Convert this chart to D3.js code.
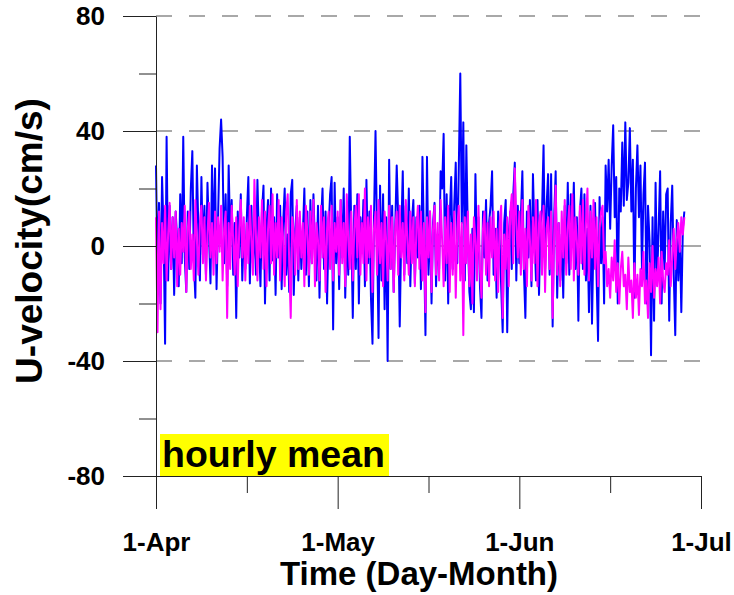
<!DOCTYPE html>
<html>
<head>
<meta charset="utf-8">
<script src="https://cdn.jsdelivr.net/npm/d3@7"></script>
<style>
  body { margin: 0; background: #fff; }
  svg text { font-family: "Liberation Sans", Arial, sans-serif; font-weight: bold; fill: #000; }
</style>
</head>
<body>
<svg id="chart" width="734" height="595"></svg>
<script>
// hourly mean U-velocity (cm/s), sampled every 6 h from 1-Apr
const uBlue = [
  28, -10, 15, -20, 24, 5, -34, 38, -12, 14, -8, 10, -17, 12, 2, -14, 18, -6, 38, -4,
  -16, 12, -8, 20, 33, -5, -18, 28, 6, -12, 24, -3, 14, -10, 22, 4, -13, 28, 0, 27,
  -15, 10, 34, 44, 31, -6, 18, -14, 28, 2, 16, -10, 8, -25, 12, -4, 18, -12, 6, -8,
  10, 24, -13, 14, -6, 8, -10, 23, 2, -14, 12, 21, -20, 6, 16, -12, 20, -5, 10, -17,
  18, -4, 14, -15, 8, 20, -10, 4, -16, 18, 23, -17, 6, 14, -12, 10, -8, 4, 20, -10,
  12, -14, 16, -6, 18, 0, -12, 14, -18, 8, 20, -8, 12, -20, 6, 18, 24, -29, 22, -6,
  10, -15, 16, -4, 20, -18, 8, -10, 38, 5, -25, 14, -8, 18, -20, 10, -2, 16, -14, 23,
  -6, 12, -18, -34, 10, 40, 4, -32, 21, -12, 18, -22, 10, -40, 30, -8, 14, -16, 6, 28,
  10, -28, 4, 26, -10, 14, -6, 20, -14, 8, 16, -13, 10, -4, 14, -15, 31, 2, -31, 31,
  -10, 12, -20, 8, 15, -14, 4, -8, 26, 20, 39, -12, 18, -20, 10, 24, -8, 14, 29, -6,
  27, 60, 8, 43, -12, 35, 4, -16, -22, 6, -23, 25, -6, 10, -14, -25, 12, -4, 16, -12,
  8, 14, 26, -10, 6, -18, 12, 2, -14, -30, 8, 16, -30, 4, 12, -8, 18, 29, -12, 14,
  -6, 10, 26, -8, -25, 12, -4, 16, -14, 25, 4, -12, 16, -17, 8, 12, 35, -8, 14, 25,
  -10, 25, -28, 10, 26, -18, 8, -12, 4, -18, 14, -6, 22, -10, 18, 2, 22, -8, 10, -26,
  12, 20, -8, 18, -12, 6, -23, 14, -27, 4, 15, -10, -33, 17, -6, 10, -20, 28, 12, 30,
  6, 28, 42, 10, 24, -20, 20, 12, 36, 14, 43, 16, 22, 41, 12, 30, -18, 20, 35, 10,
  28, -8, 18, 29, -20, 14, 2, -38, 10, -26, 22, -12, 6, 26, -20, 12, -8, 18, 20, -26,
  8, 21, -10, -31, 9, -12, 4, -23, 6, 12
];

const uMagenta = [
  10, -30, 12, -22, 8, -6, 14, -12, 4, 15, -8, 10, -4, 12, -14, 6, -10, 8, -2, 14,
  -16, 6, 12, -8, 4, -12, 16, 2, -10, 8, 14, -6, 10, -12, 4, 15, -4, 8, -10, 12,
  -6, 10, -2, 14, -12, 6, 12, -25, 8, -8, 14, 2, -10, 10, -14, 6, 16, -4, 10, -12,
  8, -6, 14, 2, -10, 23, 4, -12, 10, -4, 16, -8, 12, -14, 6, 14, -6, 18, -10, 8,
  -4, 16, -12, 10, 2, -14, 12, 18, -6, -25, 10, 4, -10, 16, -8, 12, -4, 8, -14, 14,
  4, -10, 12, -6, 16, -14, 8, 2, -12, 14, -4, 10, -16, 6, 12, -8, 14, -12, 8, -2,
  12, -10, 16, -6, 8, -14, 18, 2, -8, 12, -12, 6, 14, -4, 18, -10, 8, -6, 20, -12,
  10, -4, 14, -16, 6, 12, -10, 16, -6, 8, -14, 12, 2, -12, 14, -8, 10, -16, 6, 12,
  -10, 14, -4, 8, -12, 16, 2, -10, 12, -6, 10, -14, 6, 14, -8, 12, -12, 8, -23, 10,
  -4, 12, -16, 6, 14, -10, 8, -12, 16, 2, -14, 10, -6, 14, -16, 8, -10, 12, -18, 6,
  14, -12, 8, -31, 10, -6, 12, -14, 4, -20, 10, 2, -12, 14, -8, -18, 6, 12, -10, 8,
  -14, 10, -4, 12, -12, 6, -16, 8, 14, -25, 4, -8, 10, -14, 12, 18, -6, 27, 8, -4,
  12, -10, 16, -8, 6, -14, 14, 2, -12, 10, -6, 16, -14, 8, 12, -10, 14, -16, 6, 10,
  -8, 12, -25, 4, 21, -10, 8, -14, 12, -4, 16, -10, 6, 14, -8, 18, -12, 10, 2, -10,
  14, -6, 16, -10, 8, 20, -12, 12, -4, 16, -8, 10, -14, 6, 12, 14, -6, -2, -14, -8,
  -18, -4, -12, 2, -16, -6, -20, -8, -2, -14, -10, -22, -4, -16, -12, -25, -6, -18, -10, -24,
  -8, -14, -2, -20, -12, -25, -6, -16, 0, -18, -8, -14, -4, -20, -2, -12, -16, -6, -10, 2,
  -14, -4, 6, -8, 2, 8, -2, 10, 4, 10
];

const samplesPerDay = 4;

const yMajorTicks = [-80, -40, 0, 40, 80];
const yMinorTicks = [-60, -20, 20, 60];
const yGridDashed = [80, 40, -40];
const xMajorTicks = [0, 30, 60, 90];
const xMajorLabels = ["1-Apr", "1-May", "1-Jun", "1-Jul"];
const xMinorTicks = [15, 45, 75];

function drawChart() {
    const margin = {top: 16, right: 33, bottom: 119, left: 156},
          width = 734 - margin.left - margin.right,
          height = 595 - margin.top - margin.bottom;

    const svg = d3.select("#chart")
      .append("g")
        .attr("transform", `translate(${margin.left},${margin.top})`);

    const x = d3.scaleLinear()
        .domain([0, 90])
        .range([0, width]);

    const y = d3.scaleLinear()
        .domain([-80, 80])
        .range([height, 0]);

    // grid lines
    svg.selectAll(".grid")
        .data(yGridDashed)
      .enter().append("line")
        .attr("x1", 0)
        .attr("x2", width)
        .attr("y1", d => y(d))
        .attr("y2", d => y(d))
        .attr("stroke", "#8c8c8c")
        .attr("stroke-width", 1.5)
        .attr("stroke-dasharray", "16,17");

    svg.append("line")
        .attr("x1", 0)
        .attr("x2", width)
        .attr("y1", y(0))
        .attr("y2", y(0))
        .attr("stroke", "#8c8c8c")
        .attr("stroke-width", 1.5);

    const line = d3.line()
        .x((d, i) => x(i / samplesPerDay))
        .y(d => y(d));

    svg.append("path")
        .datum(uBlue)
        .attr("fill", "none")
        .attr("stroke", "#0000ff")
        .attr("stroke-width", 2)
        .attr("stroke-linejoin", "round")
        .attr("d", line);

    svg.append("path")
        .datum(uMagenta)
        .attr("fill", "none")
        .attr("stroke", "#ff00ff")
        .attr("stroke-width", 2)
        .attr("stroke-linejoin", "round")
        .attr("d", line);

    // Y Axis
    svg.append("g")
        .call(d3.axisLeft(y).tickValues(yMajorTicks).tickSize(33).tickSizeOuter(0).tickPadding(18)
            .tickFormat(d => String(d)))
        .call(g => g.selectAll("text").style("font-size", "26px").attr("font-family", null))
        .call(g => g.selectAll("line, path").attr("stroke", "#222"));

    svg.append("g")
        .call(d3.axisLeft(y).tickValues(yMinorTicks).tickSize(17).tickFormat(""))
        .call(g => g.select(".domain").remove())
        .call(g => g.selectAll("line").attr("stroke", "#222"));

    // X Axis
    svg.append("g")
        .attr("transform", `translate(0,${height})`)
        .call(d3.axisBottom(x).tickValues(xMajorTicks).tickSize(33).tickSizeOuter(0).tickPadding(24)
            .tickFormat((d, i) => xMajorLabels[i]))
        .call(g => g.selectAll("text").style("font-size", "26px").attr("font-family", null))
        .call(g => g.selectAll("line, path").attr("stroke", "#222"));

    svg.append("g")
        .attr("transform", `translate(0,${height})`)
        .call(d3.axisBottom(x).tickValues(xMinorTicks).tickSize(17).tickFormat(""))
        .call(g => g.select(".domain").remove())
        .call(g => g.selectAll("line").attr("stroke", "#222"));

    // hourly mean label
    svg.append("rect")
        .attr("x", 4)
        .attr("y", height - 42)
        .attr("width", 229)
        .attr("height", 42)
        .attr("fill", "#ffff00");

    svg.append("text")
        .attr("x", 6)
        .attr("y", height - 9)
        .style("font-size", "37.5px")
        .text("hourly mean");

    // axis titles
    d3.select("#chart").append("text")
        .attr("transform", "translate(42,241) rotate(-90)")
        .attr("text-anchor", "middle")
        .style("font-size", "37px")
        .text("U-velocity(cm/s)");

    d3.select("#chart").append("text")
        .attr("x", 419)
        .attr("y", 585)
        .attr("text-anchor", "middle")
        .style("font-size", "33px")
        .text("Time (Day-Month)");
}

drawChart();
</script>
</body>
</html>
